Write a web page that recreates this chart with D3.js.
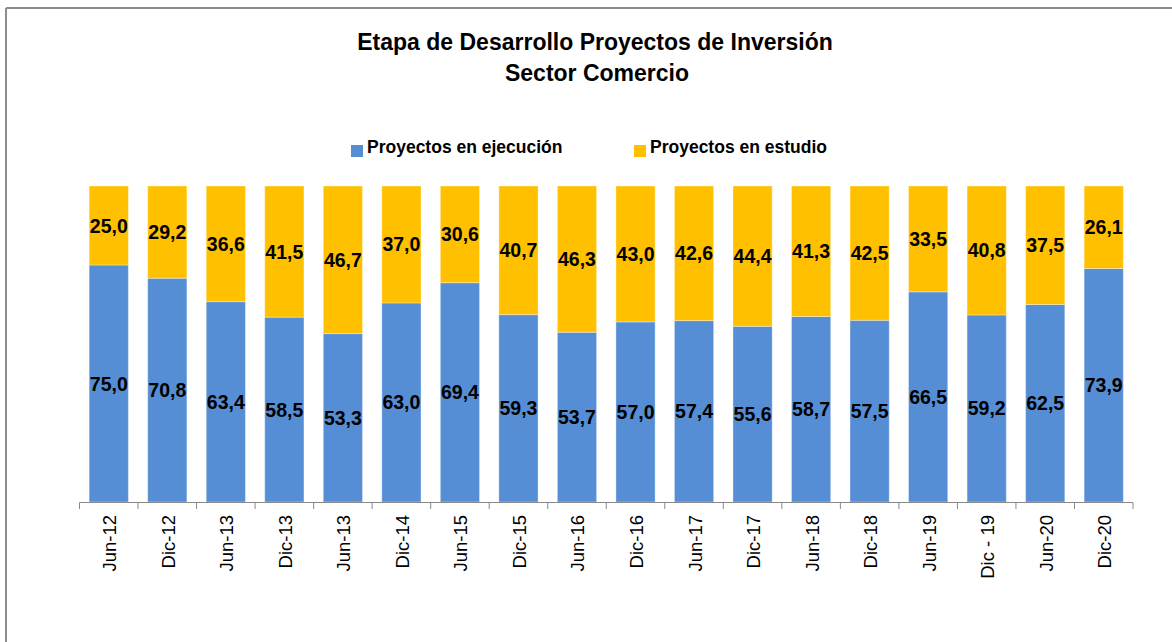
<!DOCTYPE html>
<html>
<head>
<meta charset="utf-8">
<script src="https://cdn.jsdelivr.net/npm/d3@7"></script>
<style>
  body { margin: 0; background: #fff; }
  svg { display: block; font-family: "Liberation Sans", Arial, sans-serif; }
</style>
</head>
<body>
<main></main>
<script>
const width = 1172;
const height = 642;

// data
const categories = ["Jun-12", "Dic-12", "Jun-13", "Dic-13", "Jun-13", "Dic-14", "Jun-15", "Dic-15", "Jun-16",
  "Dic-16", "Jun-17", "Dic-17", "Jun-18", "Dic-18", "Jun-19", "Dic - 19", "Jun-20", "Dic-20"];
const ejecucion = [75.0, 70.8, 63.4, 58.5, 53.3, 63.0, 69.4, 59.3, 53.7, 57.0, 57.4, 55.6, 58.7, 57.5, 66.5, 59.2, 62.5, 73.9];
const estudio = [25.0, 29.2, 36.6, 41.5, 46.7, 37.0, 30.6, 40.7, 46.3, 43.0, 42.6, 44.4, 41.3, 42.5, 33.5, 40.8, 37.5, 26.1];
const seriesNames = ["Proyectos en ejecución", "Proyectos en estudio"];
const colors = ["#558ED5", "#FFC000"];

const fmt = v => v.toFixed(1).replace(".", ",");

const rows = categories.map((c, i) => ({i: i, cat: c, ejecucion: ejecucion[i], estudio: estudio[i]}));
const stack = d3.stack().keys(["ejecucion", "estudio"])(rows);

const x = d3.scaleBand()
  .domain(d3.range(categories.length))
  .range([79.5, 1133])
  .paddingInner(0.33)
  .paddingOuter(0.165);

const y = d3.scaleLinear().domain([0, 100]).range([502, 186]);

const svg = d3.select("main").append("svg")
  .attr("width", width)
  .attr("height", height);

// frame
svg.append("line").attr("x1", 6).attr("x2", width).attr("y1", 8).attr("y2", 8)
  .style("stroke", "#8c8c8c").style("stroke-width", 2);
svg.append("line").attr("x1", 6).attr("x2", 6).attr("y1", 8).attr("y2", height)
  .style("stroke", "#8c8c8c").style("stroke-width", 2);

// title
const title = svg.append("text")
  .attr("text-anchor", "middle")
  .style("font-weight", "bold")
  .style("font-size", "23px")
  .style("fill", "#000");
title.append("tspan").attr("x", 595).attr("y", 50).text("Etapa de Desarrollo Proyectos de Inversión");
title.append("tspan").attr("x", 597).attr("y", 81).text("Sector Comercio");

// legend
const legendX = [351, 634];
const legend = svg.append("g").selectAll("g")
  .data(seriesNames)
  .enter().append("g")
  .attr("transform", (d, i) => `translate(${legendX[i]},145)`);
legend.append("rect").attr("width", 12).attr("height", 12).style("fill", (d, i) => colors[i]);
legend.append("text")
  .attr("x", 16).attr("y", 8)
  .style("font-weight", "bold")
  .style("font-size", "17.5px")
  .style("fill", "#000")
  .text(d => d);

// bars
const layer = svg.append("g").selectAll("g")
  .data(stack)
  .enter().append("g")
  .style("fill", (d, i) => colors[i]);

layer.selectAll("rect")
  .data(d => d)
  .enter().append("rect")
  .attr("x", d => x(d.data.i))
  .attr("width", x.bandwidth())
  .attr("y", d => y(d[1]))
  .attr("height", d => y(d[0]) - y(d[1]))
  .style("stroke", "#ffffff")
  .style("stroke-opacity", 0.35)
  .style("stroke-width", 1);

// value labels
layer.selectAll("text")
  .data(d => d.map(p => ({p: p, v: p[1] - p[0]})))
  .enter().append("text")
  .attr("x", d => x(d.p.data.i) + x.bandwidth() / 2)
  .attr("y", d => (y(d.p[0]) + y(d.p[1])) / 2)
  .attr("text-anchor", "middle")
  .attr("dominant-baseline", "central")
  .style("font-weight", "bold")
  .style("font-size", "19.5px")
  .style("fill", "#000")
  .text(d => fmt(d.v));

// x axis
const axisG = svg.append("g");
const step = x.step();
const x0 = x.range()[0];
axisG.append("line")
  .attr("x1", x0).attr("x2", x.range()[1])
  .attr("y1", 502.5).attr("y2", 502.5)
  .style("stroke", "#898989");
axisG.selectAll("line.tick")
  .data(d3.range(categories.length + 1))
  .enter().append("line")
  .attr("class", "tick")
  .attr("x1", d => x0 + d * step).attr("x2", d => x0 + d * step)
  .attr("y1", 502.5).attr("y2", 509)
  .style("stroke", "#898989");

axisG.selectAll("text")
  .data(rows)
  .enter().append("text")
  .attr("transform", d => `translate(${x(d.i) + x.bandwidth() / 2 + 1},515) rotate(-90)`)
  .attr("text-anchor", "end")
  .attr("dominant-baseline", "central")
  .style("font-size", "18.5px")
  .style("fill", "#000")
  .text(d => d.cat);
</script>
</body>
</html>
